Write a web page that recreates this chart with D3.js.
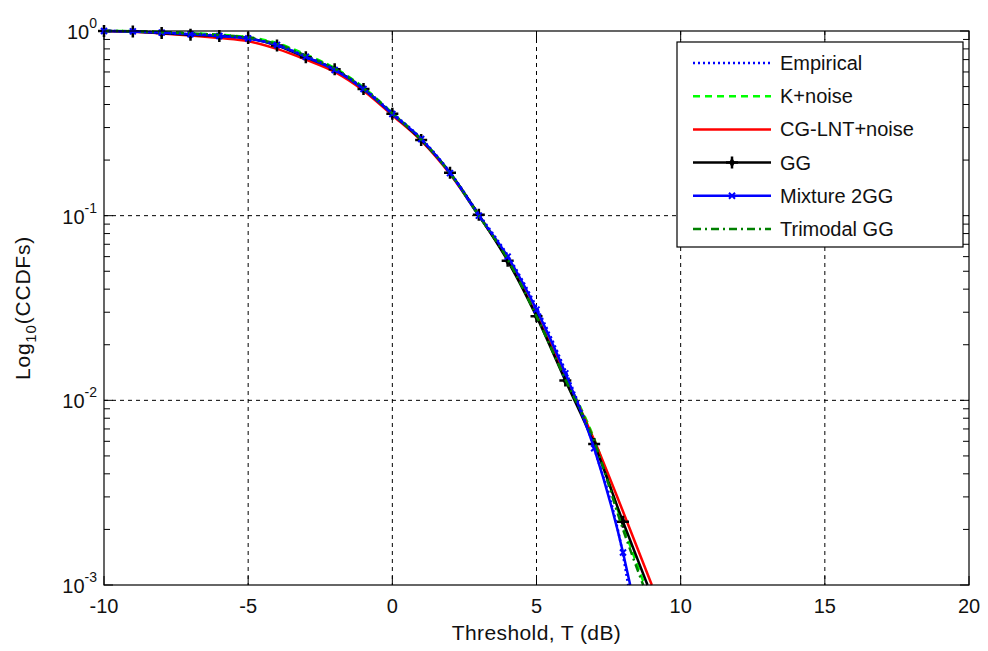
<!DOCTYPE html>
<html>
<head>
<meta charset="utf-8">
<script src="https://d3js.org/d3.v7.min.js"></script>
<style>
  body { margin: 0; background: #fff; }
  text { font-family: "Liberation Sans", Arial, sans-serif; fill: #111; }
</style>
</head>
<body>
<div id="chart"></div>
<script>
// x positions (dB) of the sampled points
var thresholds = [-10, -9, -8, -7, -6, -5, -4, -3, -2, -1, 0, 1, 2, 3, 4, 5, 6, 7, 8];

// CCDF values, plus the point where each curve leaves the plot
var empirical = [1.0, 0.995, 0.98, 0.96, 0.945, 0.91, 0.84, 0.73, 0.62, 0.49, 0.36, 0.262, 0.172, 0.102, 0.061, 0.032, 0.0145, 0.0055, 0.00145];
var empiricalEnd = [8.18, 0.001];
var kNoise = [1.0, 0.998, 0.99, 0.975, 0.955, 0.925, 0.86, 0.745, 0.63, 0.495, 0.36, 0.26, 0.17, 0.1, 0.058, 0.029, 0.0135, 0.0062, 0.0021];
var kNoiseEnd = [8.75, 0.001];
var cgLnt = [1.0, 0.99, 0.97, 0.945, 0.915, 0.88, 0.8, 0.7, 0.6, 0.475, 0.35, 0.255, 0.168, 0.1, 0.058, 0.029, 0.0135, 0.0061, 0.0025];
var cgLntEnd = [9.0, 0.001];
var gg = [1.0, 0.995, 0.975, 0.955, 0.94, 0.915, 0.835, 0.72, 0.62, 0.485, 0.356, 0.257, 0.171, 0.101, 0.057, 0.0285, 0.0128, 0.0058, 0.0022];
var ggEnd = [8.85, 0.001];
var mix2gg = [1.0, 0.995, 0.98, 0.96, 0.94, 0.91, 0.84, 0.725, 0.615, 0.485, 0.355, 0.26, 0.17, 0.1, 0.06, 0.031, 0.014, 0.0055, 0.0015];
var mix2ggEnd = [8.25, 0.001];
var trimodal = [1.0, 0.997, 0.985, 0.97, 0.95, 0.92, 0.85, 0.735, 0.625, 0.49, 0.358, 0.258, 0.17, 0.1, 0.058, 0.0285, 0.013, 0.006, 0.002];
var trimodalEnd = [8.7, 0.001];

var xTicks = [-10, -5, 0, 5, 10, 15, 20];
var yTicks = [1, 0.1, 0.01, 0.001];

var W = 988, H = 651;
var margin = {top: 31, right: 19, bottom: 66, left: 104};
var width = W - margin.left - margin.right,
    height = H - margin.top - margin.bottom;

var svg = d3.select("#chart").append("svg")
  .attr("width", W).attr("height", H);
var g = svg.append("g")
  .attr("transform", "translate(" + margin.left + "," + margin.top + ")");

var x = d3.scaleLinear().domain([-10, 20]).range([0, width]);
var y = d3.scaleLog().domain([0.001, 1]).range([height, 0]);

// dashed grid
g.append("g").selectAll("line").data(xTicks.slice(1, -1)).enter().append("line")
  .attr("x1", function(d) { return x(d); }).attr("x2", function(d) { return x(d); })
  .attr("y1", 0).attr("y2", height)
  .attr("stroke", "#000").attr("stroke-width", 1).attr("stroke-dasharray", "4,4");
g.append("g").selectAll("line").data(yTicks.slice(1, -1)).enter().append("line")
  .attr("y1", function(d) { return y(d); }).attr("y2", function(d) { return y(d); })
  .attr("x1", 0).attr("x2", width)
  .attr("stroke", "#000").attr("stroke-width", 1).attr("stroke-dasharray", "4,4");

// minor + major ticks, drawn inward on all sides
var minor = [];
[0.001, 0.01, 0.1].forEach(function(b) { for (var k = 2; k <= 9; k++) minor.push(b * k); });
var ticksG = g.append("g").attr("stroke", "#000").attr("stroke-width", 1);
minor.concat(yTicks).forEach(function(v) {
  var len = yTicks.indexOf(v) >= 0 ? 9 : 6;
  ticksG.append("line").attr("x1", 0).attr("x2", len).attr("y1", y(v)).attr("y2", y(v));
  ticksG.append("line").attr("x1", width).attr("x2", width - len).attr("y1", y(v)).attr("y2", y(v));
});
xTicks.forEach(function(v) {
  ticksG.append("line").attr("x1", x(v)).attr("x2", x(v)).attr("y1", height).attr("y2", height - 9);
  ticksG.append("line").attr("x1", x(v)).attr("x2", x(v)).attr("y1", 0).attr("y2", 9);
});

// x tick labels
g.append("g").selectAll("text").data(xTicks).enter().append("text")
  .attr("x", function(d) { return x(d); })
  .attr("y", height + 28)
  .attr("text-anchor", "middle")
  .style("font-size", "20px")
  .text(function(d) { return d; });

// y tick labels 10^n
var yl = g.append("g").selectAll("text").data(yTicks).enter().append("text")
  .attr("x", -7)
  .attr("y", function(d) { return y(d) + 8; })
  .attr("text-anchor", "end")
  .style("font-size", "20px");
yl.append("tspan").text("10");
yl.append("tspan").attr("dy", -11).style("font-size", "14px")
  .text(function(d) { return Math.round(Math.log10(d)); });

// axis labels
svg.append("text")
  .attr("x", margin.left + width / 2).attr("y", 640)
  .attr("text-anchor", "middle").style("font-size", "21px")
  .style("letter-spacing", "0.4px")
  .text("Threshold, T (dB)");
var ylab = svg.append("text")
  .attr("transform", "translate(30," + (margin.top + height / 2) + ") rotate(-90)")
  .attr("text-anchor", "middle").style("font-size", "21px")
  .style("letter-spacing", "0.8px");
ylab.append("tspan").text("Log");
ylab.append("tspan").attr("dy", 6).style("font-size", "15px").text("10");
ylab.append("tspan").attr("dy", -6).text("(CCDFs)");

// series
function pts(vals, end) {
  var p = thresholds.map(function(t, i) { return [t, vals[i]]; });
  p.push(end);
  return p;
}
var series = [
  {name: "K+noise", data: pts(kNoise, kNoiseEnd), color: "#00ff00", dash: "7,5", marker: null},
  {name: "CG-LNT+noise", data: pts(cgLnt, cgLntEnd), color: "#ff0000", dash: null, marker: null},
  {name: "GG", data: pts(gg, ggEnd), color: "#000000", dash: null, marker: "star"},
  {name: "Mixture 2GG", data: pts(mix2gg, mix2ggEnd), color: "#0000ff", dash: null, marker: "x"},
  {name: "Trimodal GG", data: pts(trimodal, trimodalEnd), color: "#008000", dash: "8,4,2,4", marker: null},
  {name: "Empirical", data: pts(empirical, empiricalEnd), color: "#0000ff", dash: "2,3", marker: null}
];
var legendOrder = ["Empirical", "K+noise", "CG-LNT+noise", "GG", "Mixture 2GG", "Trimodal GG"];

var line = d3.line()
  .x(function(d) { return x(d[0]); })
  .y(function(d) { return y(d[1]); })
  .curve(d3.curveMonotoneX);

var plot = g.append("g");
function drawMarker(sel, type, color, cx, cy) {
  if (type === "star") {
    sel.append("path")
      .attr("d", "M" + (cx - 6) + "," + cy + "H" + (cx + 6) + "M" + cx + "," + (cy - 6) + "V" + (cy + 6))
      .attr("stroke", color).attr("stroke-width", 2.5);
    sel.append("path")
      .attr("d", d3.symbol().type(d3.symbolDiamond).size(30)())
      .attr("transform", "translate(" + cx + "," + cy + ")")
      .attr("fill", color);
  } else if (type === "x") {
    sel.append("path")
      .attr("d", "M" + (cx - 3) + "," + (cy - 3) + "L" + (cx + 3) + "," + (cy + 3) + "M" + (cx - 3) + "," + (cy + 3) + "L" + (cx + 3) + "," + (cy - 3))
      .attr("stroke", color).attr("stroke-width", 2);
  }
}
series.forEach(function(s) {
  plot.append("path").datum(s.data)
    .attr("d", line)
    .attr("fill", "none")
    .attr("stroke", s.color)
    .attr("stroke-width", 2.5)
    .attr("stroke-dasharray", s.dash);
  if (s.marker) {
    var mg = plot.append("g");
    s.data.slice(0, thresholds.length).forEach(function(d) {
      drawMarker(mg, s.marker, s.color, x(d[0]), y(d[1]));
    });
  }
});

// axes box
g.append("rect").attr("width", width).attr("height", height)
  .attr("fill", "none").attr("stroke", "#000").attr("stroke-width", 1.2);

// legend
var lg = svg.append("g").attr("transform", "translate(677,42)");
lg.append("rect").attr("width", 286).attr("height", 205)
  .attr("fill", "#fff").attr("stroke", "#000").attr("stroke-width", 1.2);
legendOrder.forEach(function(name, i) {
  var s = series.filter(function(d) { return d.name === name; })[0];
  var ly = 21 + i * 33.2;
  lg.append("line").attr("x1", 16).attr("x2", 94).attr("y1", ly).attr("y2", ly)
    .attr("stroke", s.color).attr("stroke-width", 2.5).attr("stroke-dasharray", s.dash);
  if (s.marker) drawMarker(lg, s.marker, s.color, 55, ly);
  lg.append("text").attr("x", 103).attr("y", ly + 7)
    .style("font-size", "20px").text(name);
});
</script>
</body>
</html>
